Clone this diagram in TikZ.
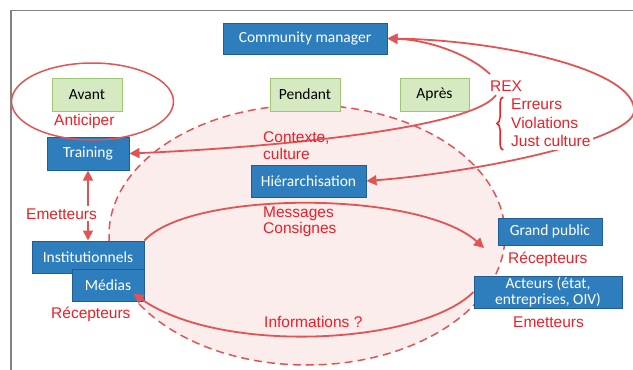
\documentclass[tikz,border=0pt]{standalone}
\usepackage{fontspec}
\setmainfont{Liberation Sans}
\newfontfamily\boxfont{Carlito}
\usetikzlibrary{arrows.meta,decorations.pathreplacing}
\definecolor{boxblue}{RGB}{46,126,190}
\definecolor{boxblueline}{RGB}{32,92,150}
\definecolor{boxgreen}{RGB}{213,234,192}
\definecolor{boxgreenline}{RGB}{158,198,116}
\definecolor{linered}{RGB}{226,84,84}
\definecolor{textred}{RGB}{236,30,38}
\definecolor{zonepink}{RGB}{252,237,237}
\definecolor{framegray}{RGB}{130,130,130}
\begin{document}
\begin{tikzpicture}[
x=1pt,y=-1pt,
font=\fontsize{15.5}{17.5}\selectfont,
bluebox/.style={draw=boxblueline,fill=boxblue,line width=1pt,text=white,inner sep=0pt,align=center,
  font=\boxfont\fontsize{15.5}{16}\selectfont},
greenbox/.style={draw=boxgreenline,fill=boxgreen,line width=1pt,text=black,inner sep=0pt,
  minimum width=70pt,minimum height=33pt,font=\boxfont\fontsize{15.5}{16}\selectfont},
redtext/.style={text=textred,inner sep=0pt,anchor=base west},
redblock/.style={text=textred,inner sep=0pt,anchor=north west,align=left},
link/.style={draw=linered,line width=1.8pt,-{Triangle[length=10pt,width=10pt]}},
twolink/.style={link,{Triangle[length=10pt,width=10pt]}-{Triangle[length=10pt,width=10pt]}}
]
\useasboundingbox (0,0) rectangle (633,370);
\draw[framegray,line width=1.5pt] (11,372) -- (11,10.5) -- (635,10.5);
\draw[linered,fill=zonepink,line width=1.5pt,dash pattern=on 8pt off 5pt]
  (307,235) ellipse [x radius=198pt,y radius=130pt];

\node[bluebox,minimum width=164pt,minimum height=31pt] (cm) at (305,38.5) {Community manager};
\node[greenbox] (avant) at (87,94.5) {Avant};
\node[greenbox] (pendant) at (305,94.5) {Pendant};
\node[greenbox,minimum width=69pt] (apres) at (434.5,94.5) {Après};
\node[bluebox,minimum width=82pt,minimum height=33pt] (training) at (88,153.5) {Training};
\node[bluebox,minimum width=115pt,minimum height=32pt] (hier) at (308.5,181) {Hiérarchisation};
\node[bluebox,minimum width=112pt,minimum height=32pt] (inst) at (88,257) {Institutionnels};
\node[bluebox,minimum width=72pt,minimum height=32pt] (medias) at (108,285) {Médias};
\node[bluebox,minimum width=104pt,minimum height=27pt] (grand) at (550,231.5) {Grand public};
\node[bluebox,minimum width=148pt,minimum height=32pt] (acteurs) at (548,292) {Acteurs (état,\\entreprises, OIV)};

\draw[linered,line width=1.5pt] (92.5,101.5) ellipse [x radius=81pt,y radius=38.5pt];
\node[redtext] (anticiper) at (54,125) {Anticiper};
\node[redtext] (rex) at (490,91) {REX};

\coordinate (gptip) at (484,248);
\draw[link] ([yshift=6pt]rex.north west) .. controls (470,55) and (430,40) .. (cm.east);
\draw[link] ([xshift=6pt,yshift=-4pt]rex.south west) .. controls (470,130) and (260,148) .. (training.east);
\draw[twolink] (hier.east) .. controls (480,172) and (630,140) .. (634,112)
  .. controls (638,70) and (500,40) .. (cm.east);
\draw[twolink] (training.south) -- (inst.north);
\draw[link] (inst.north east) .. controls (190,190) and (420,190) .. (gptip);
\draw[link] (acteurs.west) .. controls (420,345) and (220,355) .. ([xshift=-11pt,yshift=8pt]medias.south east);

\node[redblock,fill=white,inner sep=3pt,font=\fontsize{15.5}{18.5}\selectfont] (rexlist) at (508,96)
  {Erreurs\\Violations\\Just culture};
\draw[textred,line width=1.5pt,decorate,decoration={brace,amplitude=6pt}] (503,150) -- (503,97);
\node[redblock] (contexte) at (263,131) {Contexte,\\culture};
\node[redblock,font=\fontsize{15.5}{14}\selectfont] (messages) at (263,207) {Messages\\Consignes};
\node[redtext,fill=white,inner sep=2pt] (emetgauche) at (24,219) {Emetteurs};
\node[redtext] (recgauche) at (51,318) {Récepteurs};
\node[redtext] (infos) at (264,327) {Informations ?};
\node[redtext] (recdroite) at (508,263) {Récepteurs};
\node[redtext] (emetdroite) at (513,327) {Emetteurs};
\end{tikzpicture}
\end{document}
